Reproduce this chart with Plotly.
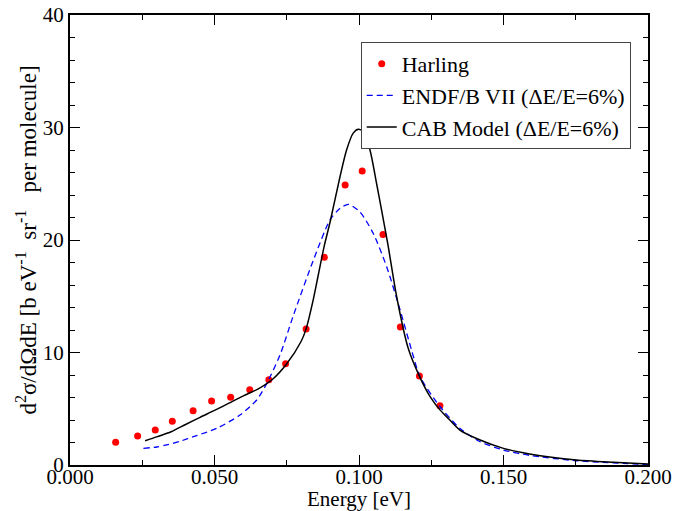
import plotly.graph_objects as go

# Harling experimental data
harling_x = [0.0158, 0.0234, 0.0295, 0.0354, 0.0426, 0.0490, 0.0556, 0.0622, 0.0688,
             0.0746, 0.0817, 0.0880, 0.0952, 0.1011, 0.1083, 0.1143, 0.1209, 0.1280]
harling_y = [2.02, 2.58, 3.11, 3.88, 4.83, 5.69, 6.02, 6.69, 7.58,
             9.00, 12.09, 18.46, 24.89, 26.13, 20.50, 12.27, 7.91, 5.27]

# ENDF/B VII (dE/E = 6%)
endf_x = [0.0254, 0.030, 0.0335, 0.038, 0.0427, 0.0508, 0.0588, 0.0646, 0.0681, 0.0727,
          0.0773, 0.0842, 0.090, 0.0934, 0.0963, 0.1003, 0.1049, 0.1096, 0.1142, 0.1182,
          0.1211, 0.128, 0.1349, 0.1419, 0.150, 0.159, 0.1753, 0.200]
endf_y = [1.48, 1.60, 1.78, 2.10, 2.52, 3.26, 4.44, 5.78, 7.26, 9.80,
          13.3, 18.2, 21.8, 22.8, 23.17, 22.5, 20.6, 17.6, 13.8, 10.2,
          7.85, 5.20, 3.26, 2.07, 1.33, 0.86, 0.38, 0.03]

# CAB Model (dE/E = 6%)
cab_x = [0.026, 0.030, 0.035, 0.040, 0.045, 0.050, 0.055, 0.060, 0.065, 0.070, 0.075,
         0.080, 0.0817, 0.084, 0.086, 0.088, 0.090, 0.0934, 0.0957, 0.098, 0.0998, 0.1015,
         0.1038, 0.1061, 0.1078, 0.110, 0.113, 0.117, 0.1209, 0.1246, 0.128, 0.1303,
         0.1349, 0.1419, 0.150, 0.159, 0.1753, 0.188, 0.200]
cab_y = [2.16, 2.50, 2.95, 3.60, 4.24, 4.85, 5.50, 6.15, 6.75, 7.60, 9.00,
         11.0, 12.1, 14.5, 17.0, 19.5, 21.6, 25.6, 28.0, 29.5, 29.84, 29.6,
         28.0, 25.0, 22.67, 19.6, 15.0, 10.4, 7.9, 6.07, 4.9, 4.3,
         3.1, 2.22, 1.48, 0.98, 0.44, 0.24, 0.09]

x_ticks = [0.0, 0.05, 0.10, 0.15, 0.20]
x_tick_labels = ["0.000", "0.050", "0.100", "0.150", "0.200"]
y_ticks = [0, 10, 20, 30, 40]

FONT = "Liberation Serif"

fig = go.Figure()
fig.add_trace(go.Scatter(x=harling_x, y=harling_y, mode="markers", name="Harling",
                         marker=dict(color="#ff0000", size=7, symbol="circle")))
fig.add_trace(go.Scatter(x=endf_x, y=endf_y, mode="lines", name="ENDF/B VII (ΔE/E=6%)",
                         line=dict(color="#0000ff", width=1.3, dash="6px,4px", shape="spline",
                                   smoothing=0.7)))
fig.add_trace(go.Scatter(x=cab_x, y=cab_y, mode="lines", name="CAB Model (ΔE/E=6%)",
                         line=dict(color="#000000", width=1.5, shape="spline", smoothing=0.7)))

axis_common = dict(showline=True, linecolor="black", linewidth=2, mirror="ticks",
                   ticks="inside", ticklen=10, tickwidth=1.2, tickcolor="black",
                   showgrid=False, zeroline=False, automargin=False,
                   tickfont=dict(family=FONT, size=21, color="black"))

fig.update_xaxes(range=[0, 0.2], tickvals=x_ticks, ticktext=x_tick_labels,
                 ticklabelstandoff=-8,
                 minor=dict(ticks="inside", ticklen=5, dtick=0.025, tickcolor="black",
                            tickwidth=1.2, showgrid=False),
                 **axis_common)
fig.update_yaxes(range=[0, 40], tickvals=y_ticks,
                 title=dict(text="d<sup>2</sup>σ/dΩdE [b eV<sup>-1</sup>  sr<sup>-1</sup>   per molecule]",
                            font=dict(family=FONT, size=23, color="black"), standoff=0),
                 minor=dict(ticks="inside", ticklen=5, dtick=2, tickcolor="black",
                            tickwidth=1.2, showgrid=False),
                 **axis_common)

fig.add_annotation(text="Energy [eV]", xref="paper", yref="paper", x=0.5, y=-0.075,
                   xanchor="center", yanchor="middle", showarrow=False,
                   font=dict(family=FONT, size=21, color="black"))

fig.update_layout(
    width=676, height=511,
    margin=dict(l=70, r=28, t=15, b=46),
    plot_bgcolor="white", paper_bgcolor="white",
    font=dict(family=FONT, color="black"),
    legend=dict(x=0.503, y=0.94, xanchor="left", yanchor="top",
                bordercolor="#444444", borderwidth=1, bgcolor="white",
                font=dict(family=FONT, size=22, color="black"),
                itemwidth=30, tracegroupgap=0),
)

fig.write_html("out.html")
